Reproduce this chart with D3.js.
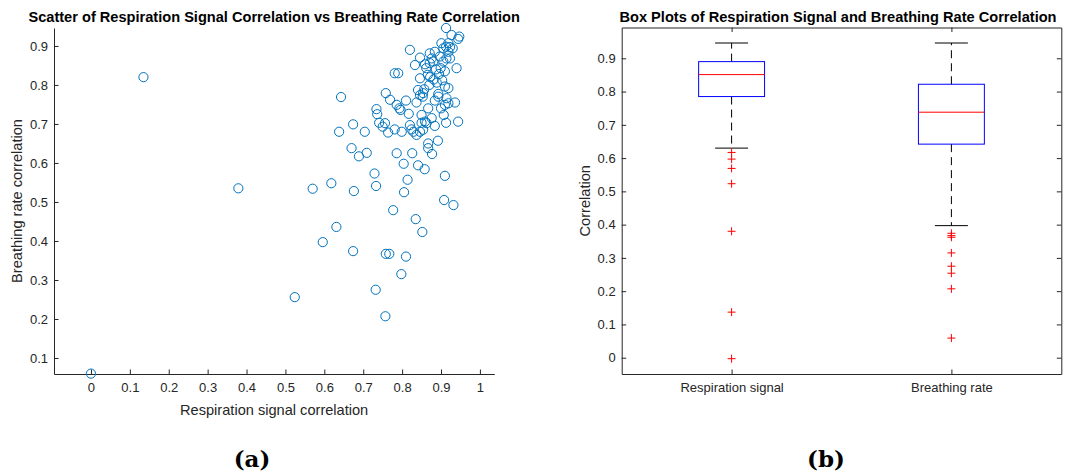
<!DOCTYPE html>
<html>
<head>
<meta charset="utf-8">
<script src="https://cdn.jsdelivr.net/npm/d3@7/dist/d3.min.js"></script>
<style>
  body { margin: 0; background: #fff; }
  svg { display: block; }
  text { font-family: "Liberation Sans", Arial, Helvetica, sans-serif; }
</style>
</head>
<body>
<svg id="chart" width="1066" height="475"></svg>
<script>
// ---- Scatter data: per-recording correlations ----
const respCorr = [
  0.000, 0.135, 0.379, 0.524, 0.570, 0.596, 0.618, 0.631, 0.638, 0.643,
  0.670, 0.674, 0.674, 0.676, 0.689, 0.704, 0.709, 0.729, 0.733, 0.732,
  0.757, 0.758, 0.767, 0.777, 0.786, 0.798, 0.804, 0.805, 0.810, 0.814,
  0.826, 0.835, 0.841, 0.852, 0.858, 0.867, 0.867, 0.877, 0.892, 0.908,
  0.910, 0.932,
  0.758, 0.769, 0.786, 0.793, 0.796, 0.810, 0.734, 0.736, 0.741, 0.750,
  0.756, 0.764, 0.781, 0.799, 0.817, 0.837, 0.841, 0.854, 0.853, 0.846,
  0.857, 0.893, 0.893, 0.910, 0.919, 0.914, 0.910, 0.919, 0.936, 0.907,
  0.913, 0.944, 0.884, 0.876, 0.859, 0.850, 0.820, 0.824, 0.829, 0.837,
  0.846, 0.854, 0.850, 0.863, 0.867,
  0.913, 0.927, 0.947, 0.944, 0.919, 0.913, 0.923, 0.906, 0.919, 0.930,
  0.901, 0.820, 0.846, 0.871, 0.884, 0.897, 0.914, 0.906, 0.923, 0.876,
  0.880, 0.833, 0.859, 0.871, 0.862, 0.887, 0.899, 0.940, 0.781, 0.790,
  0.846, 0.866, 0.872, 0.881, 0.895, 0.903, 0.889, 0.910, 0.870, 0.884,
  0.900
];
const rateCorr = [
  0.060, 0.820, 0.535, 0.256, 0.534, 0.397, 0.548, 0.436, 0.680, 0.769,
  0.638, 0.699, 0.374, 0.528, 0.617, 0.680, 0.626, 0.573, 0.541, 0.275,
  0.207, 0.367, 0.367, 0.479, 0.625, 0.315, 0.598, 0.525, 0.360, 0.557,
  0.625, 0.456, 0.594, 0.423, 0.584, 0.650, 0.638, 0.623, 0.657, 0.505,
  0.567, 0.492,
  0.779, 0.762, 0.749, 0.740, 0.736, 0.760, 0.738, 0.725, 0.703, 0.693,
  0.702, 0.678, 0.686, 0.680, 0.726, 0.755, 0.787, 0.779, 0.770, 0.774,
  0.789, 0.777, 0.770, 0.796, 0.792, 0.766, 0.749, 0.753, 0.755, 0.723,
  0.703, 0.706, 0.695, 0.715, 0.706, 0.723, 0.697, 0.686, 0.680, 0.672,
  0.680, 0.685, 0.703, 0.702, 0.740,
  0.946, 0.928, 0.924, 0.918, 0.907, 0.898, 0.897, 0.894, 0.885, 0.894,
  0.907, 0.890, 0.870, 0.881, 0.885, 0.873, 0.868, 0.860, 0.868, 0.868,
  0.860, 0.851, 0.853, 0.856, 0.843, 0.840, 0.843, 0.843, 0.830, 0.830,
  0.817, 0.826, 0.820, 0.814, 0.828, 0.812, 0.806, 0.835, 0.800, 0.760,
  0.740
];
const scatterXTicks = [0, 0.1, 0.2, 0.3, 0.4, 0.5, 0.6, 0.7, 0.8, 0.9, 1];
const scatterYTicks = [0.1, 0.2, 0.3, 0.4, 0.5, 0.6, 0.7, 0.8, 0.9];

// ---- Box plot summary statistics ----
const boxCategories = ["Respiration signal", "Breathing rate"];
const boxWhiskerLow  = [0.630, 0.397];
const boxQ1          = [0.785, 0.642];
const boxMedian      = [0.851, 0.738];
const boxQ3          = [0.890, 0.822];
const boxWhiskerHigh = [0.946, 0.946];
const boxOutliers = [
  [0.617, 0.597, 0.569, 0.523, 0.380, 0.137, -0.003],
  [0.374, 0.367, 0.362, 0.315, 0.275, 0.254, 0.207, 0.059]
];
const boxYTicks = [0, 0.1, 0.2, 0.3, 0.4, 0.5, 0.6, 0.7, 0.8, 0.9];

// ---- Shared styling ----
const axisColor = "#262626";
const tickLen = 4.5;
const fmt = d3.format("~g");
const svg = d3.select("#chart");

function styleAxis(g) {
  g.selectAll("path.domain").attr("stroke", axisColor);
  g.selectAll(".tick line").attr("stroke", axisColor);
  g.selectAll(".tick text")
    .attr("fill", axisColor)
    .style("font-size", "13px")
    .style("font-family", '"Liberation Sans", Arial, sans-serif');
}

// ================= (a) Scatter =================
const sc = { left: 54, right: 494.3, top: 28, bottom: 374 };
const sx = d3.scaleLinear().domain([-0.095, 1.037]).range([sc.left, sc.right]);
const sy = d3.scaleLinear().domain([0.059, 0.946]).range([sc.bottom, sc.top]);

const gA = svg.append("g");
gA.append("g")
  .attr("transform", `translate(0,${sc.bottom})`)
  .call(d3.axisBottom(sx).tickValues(scatterXTicks).tickFormat(fmt)
        .tickSizeInner(-tickLen).tickSizeOuter(0).tickPadding(9))
  .call(styleAxis);
gA.append("g")
  .attr("transform", `translate(${sc.left},0)`)
  .call(d3.axisLeft(sy).tickValues(scatterYTicks).tickFormat(fmt)
        .tickSizeInner(-tickLen).tickSizeOuter(0).tickPadding(6))
  .call(styleAxis);

gA.append("g")
  .selectAll("circle")
  .data(d3.range(respCorr.length))
  .join("circle")
  .attr("cx", i => sx(respCorr[i]))
  .attr("cy", i => sy(rateCorr[i]))
  .attr("r", 4.6)
  .attr("fill", "none")
  .attr("stroke", "#0072BD")
  .attr("stroke-width", 1);

gA.append("text")
  .attr("x", (sc.left + sc.right) / 2).attr("y", 22)
  .attr("text-anchor", "middle")
  .style("font-size", "14.6px").style("font-weight", "bold")
  .text("Scatter of Respiration Signal Correlation vs Breathing Rate Correlation");
gA.append("text")
  .attr("x", (sc.left + sc.right) / 2).attr("y", 415)
  .attr("text-anchor", "middle").attr("fill", axisColor)
  .style("font-size", "14.6px")
  .text("Respiration signal correlation");
gA.append("text")
  .attr("transform", `translate(22,${(sc.top + sc.bottom) / 2}) rotate(-90)`)
  .attr("text-anchor", "middle").attr("fill", axisColor)
  .style("font-size", "14.6px")
  .text("Breathing rate correlation");

// ================= (b) Box plots =================
const bp = { left: 621.7, right: 1061.3, top: 27.5, bottom: 374 };
const bx = d3.scaleLinear().domain([0.5, 2.5]).range([bp.left, bp.right]);
const by = d3.scaleLinear().domain([-0.049, 0.9926]).range([bp.bottom, bp.top]);
const positions = boxCategories.map((_, i) => i + 1);
const halfBox = 0.15, halfCap = 0.075;

const gB = svg.append("g");
gB.append("g")
  .attr("transform", `translate(0,${bp.bottom})`)
  .call(d3.axisBottom(bx).tickValues(positions).tickFormat(i => boxCategories[i - 1])
        .tickSizeInner(-tickLen).tickSizeOuter(0).tickPadding(9))
  .call(styleAxis);
gB.append("g")
  .attr("transform", `translate(0,${bp.top})`)
  .call(d3.axisTop(bx).tickValues(positions).tickFormat("")
        .tickSizeInner(-tickLen).tickSizeOuter(0))
  .call(styleAxis);
gB.append("g")
  .attr("transform", `translate(${bp.left},0)`)
  .call(d3.axisLeft(by).tickValues(boxYTicks).tickFormat(fmt)
        .tickSizeInner(-tickLen).tickSizeOuter(0).tickPadding(6))
  .call(styleAxis);
gB.append("g")
  .attr("transform", `translate(${bp.right},0)`)
  .call(d3.axisRight(by).tickValues(boxYTicks).tickFormat("")
        .tickSizeInner(-tickLen).tickSizeOuter(0))
  .call(styleAxis);

const boxes = gB.append("g").selectAll("g")
  .data(positions)
  .join("g");

// dashed whiskers
boxes.append("line")
  .attr("x1", p => bx(p)).attr("x2", p => bx(p))
  .attr("y1", (p, i) => by(boxQ3[i])).attr("y2", (p, i) => by(boxWhiskerHigh[i]))
  .attr("stroke", "#000").attr("stroke-dasharray", "8,5");
boxes.append("line")
  .attr("x1", p => bx(p)).attr("x2", p => bx(p))
  .attr("y1", (p, i) => by(boxQ1[i])).attr("y2", (p, i) => by(boxWhiskerLow[i]))
  .attr("stroke", "#000").attr("stroke-dasharray", "8,5");
// whisker caps
[boxWhiskerHigh, boxWhiskerLow].forEach(arr => {
  boxes.append("line")
    .attr("x1", p => bx(p - halfCap)).attr("x2", p => bx(p + halfCap))
    .attr("y1", (p, i) => by(arr[i])).attr("y2", (p, i) => by(arr[i]))
    .attr("stroke", "#000");
});
// box
boxes.append("rect")
  .attr("x", p => bx(p - halfBox))
  .attr("width", p => bx(p + halfBox) - bx(p - halfBox))
  .attr("y", (p, i) => by(boxQ3[i]))
  .attr("height", (p, i) => by(boxQ1[i]) - by(boxQ3[i]))
  .attr("fill", "none").attr("stroke", "#0000ff");
// median
boxes.append("line")
  .attr("x1", p => bx(p - halfBox)).attr("x2", p => bx(p + halfBox))
  .attr("y1", (p, i) => by(boxMedian[i])).attr("y2", (p, i) => by(boxMedian[i]))
  .attr("stroke", "#ff0000");
// outliers
boxes.each(function (p, i) {
  d3.select(this).selectAll("path.out")
    .data(boxOutliers[i])
    .join("path")
    .attr("class", "out")
    .attr("d", v => {
      const cx = bx(p), cy = by(v), h = 4;
      return `M${cx - h},${cy}H${cx + h}M${cx},${cy - h}V${cy + h}`;
    })
    .attr("stroke", "#ff0000").attr("fill", "none");
});

gB.append("text")
  .attr("x", 838).attr("y", 22)
  .attr("text-anchor", "middle")
  .style("font-size", "14.6px").style("font-weight", "bold")
  .text("Box Plots of Respiration Signal and Breathing Rate Correlation");
gB.append("text")
  .attr("transform", `translate(590,${(bp.top + bp.bottom) / 2}) rotate(-90)`)
  .attr("text-anchor", "middle").attr("fill", axisColor)
  .style("font-size", "14.6px")
  .text("Correlation");

// ---- Sub-figure captions ----
svg.append("text")
  .attr("x", 252).attr("y", 467)
  .attr("text-anchor", "middle")
  .style("font-family", '"DejaVu Serif", "Liberation Serif", serif')
  .style("font-size", "23px").style("font-weight", "bold")
  .text("(a)");
svg.append("text")
  .attr("x", 826).attr("y", 467)
  .attr("text-anchor", "middle")
  .style("font-family", '"DejaVu Serif", "Liberation Serif", serif')
  .style("font-size", "23px").style("font-weight", "bold")
  .text("(b)");
</script>
</body>
</html>
